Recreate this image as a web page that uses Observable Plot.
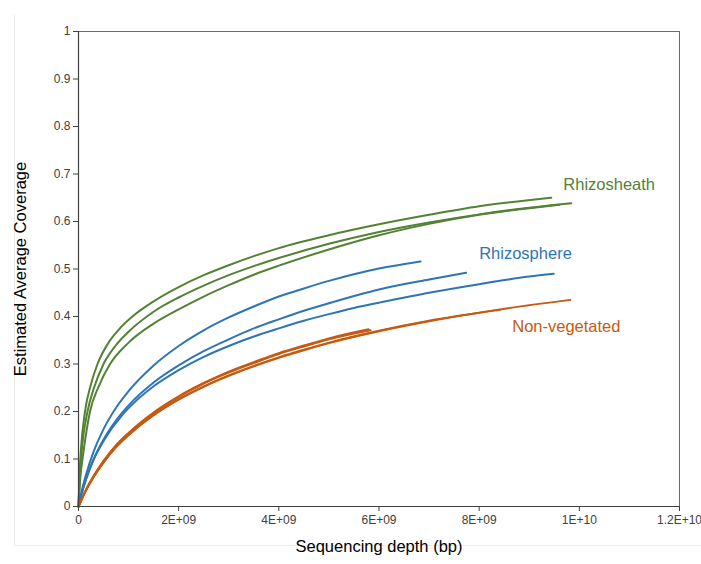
<!DOCTYPE html>
<html>
<head>
<meta charset="utf-8">
<script src="https://cdn.jsdelivr.net/npm/d3@7"></script>
<script src="https://cdn.jsdelivr.net/npm/@observablehq/plot@0.6"></script>
<style>
  html, body { margin: 0; padding: 0; background: #fff; }
  #wrap { position: relative; width: 701px; height: 564px; }
  .faint-v { position: absolute; left: 14px; top: 15px; width: 1px; height: 530px; background: #ececec; }
  .faint-h { position: absolute; left: 14px; top: 545px; width: 687px; height: 1px; background: #ececec; }
  svg { font-family: "Liberation Sans", Arial, sans-serif; }
</style>
</head>
<body>
<div id="wrap"><div class="faint-v"></div><div class="faint-h"></div></div>
<script>
// Sequencing depth in units of 1e9 bp, estimated average coverage
const rhizosheath1 = [[0,0],[0.02,0.066],[0.05,0.122],[0.13,0.2],[0.25,0.258],[0.38,0.3],[0.6,0.345],[0.8,0.372],[1.1,0.402],[1.5,0.432],[2,0.462],[2.5,0.487],[3,0.508],[3.5,0.527],[4,0.544],[5,0.571],[6,0.594],[7,0.614],[8,0.632],[9.44,0.65]];
const rhizosheath2 = [[0,0],[0.02,0.052],[0.06,0.112],[0.18,0.2],[0.3,0.247],[0.5,0.3],[0.75,0.34],[1,0.368],[1.5,0.41],[2,0.44],[2.5,0.465],[3,0.487],[3.5,0.506],[4,0.523],[5,0.553],[6,0.578],[7,0.598],[8,0.615],[9,0.629],[9.84,0.6386]];
const rhizosheath3 = [[0,0],[0.03,0.052],[0.1,0.115],[0.23,0.2],[0.4,0.252],[0.63,0.3],[1,0.345],[1.5,0.385],[2,0.415],[2.5,0.442],[3,0.466],[3.5,0.488],[4,0.507],[5,0.541],[6,0.571],[7,0.595],[8,0.614],[9,0.628],[9.6,0.635]];
const rhizosphere1 = [[0,0],[0.05,0.026],[0.15,0.067],[0.3,0.115],[0.5,0.163],[0.75,0.208],[1,0.243],[1.5,0.297],[2,0.338],[2.5,0.371],[3,0.398],[3.5,0.421],[4,0.442],[4.5,0.459],[5,0.475],[5.5,0.489],[6,0.501],[6.83,0.516]];
const rhizosphere2 = [[0,0],[0.05,0.022],[0.15,0.058],[0.3,0.099],[0.5,0.141],[0.82,0.191],[1,0.213],[1.5,0.261],[2,0.297],[2.5,0.327],[3,0.352],[3.5,0.375],[4,0.394],[4.5,0.412],[5,0.428],[5.5,0.443],[6,0.457],[7,0.478],[7.74,0.492]];
const rhizosphere3 = [[0,0],[0.05,0.022],[0.15,0.057],[0.3,0.098],[0.5,0.138],[0.86,0.191],[1,0.207],[1.5,0.253],[2,0.287],[2.5,0.315],[3,0.338],[3.5,0.358],[4,0.375],[4.5,0.391],[5,0.405],[5.5,0.418],[6,0.429],[7,0.45],[8,0.468],[9,0.484],[9.49,0.49]];
const nonveg1 = [[0,0],[0.05,0.012],[0.15,0.035],[0.3,0.064],[0.5,0.096],[0.75,0.129],[1,0.155],[1.5,0.198],[2,0.232],[2.5,0.26],[3,0.284],[3.5,0.304],[4,0.323],[4.5,0.339],[5,0.354],[5.79,0.373]];
const nonveg2 = [[0,0],[0.05,0.012],[0.15,0.035],[0.3,0.063],[0.5,0.095],[0.75,0.128],[1,0.154],[1.5,0.197],[2,0.231],[2.5,0.259],[3,0.282],[3.5,0.302],[4,0.321],[4.5,0.337],[5,0.352],[5.83,0.371]];
const nonveg3 = [[0,0],[0.05,0.012],[0.15,0.034],[0.3,0.062],[0.5,0.093],[0.75,0.125],[1,0.151],[1.5,0.193],[2,0.226],[2.5,0.253],[3,0.276],[3.5,0.296],[4,0.314],[4.5,0.33],[5,0.345],[6,0.37],[7,0.391],[8.42,0.414]];
const nonveg4 = [[0,0],[0.05,0.012],[0.15,0.034],[0.3,0.062],[0.5,0.093],[0.75,0.125],[1,0.15],[1.5,0.192],[2,0.225],[2.5,0.252],[3,0.275],[3.5,0.295],[4,0.313],[4.5,0.329],[5,0.344],[6,0.369],[7,0.39],[8.42,0.415],[9.82,0.435]];

const groups = ["Rhizosheath", "Rhizosphere", "Non-vegetated"];
const groupColors = ["#548235", "#2e75b6", "#c55a11"];

const xTicks = [0, 2, 4, 6, 8, 10, 12];
const xTickLabels = ["0", "2E+09", "4E+09", "6E+09", "8E+09", "1E+10", "1.2E+10"];
const yTicks = [0, 0.1, 0.2, 0.3, 0.4, 0.5, 0.6, 0.7, 0.8, 0.9, 1];
const yTickLabels = ["0", "0.1", "0.2", "0.3", "0.4", "0.5", "0.6", "0.7", "0.8", "0.9", "1"];

const seriesList = [
  ["Rhizosheath", rhizosheath1], ["Rhizosheath", rhizosheath2], ["Rhizosheath", rhizosheath3],
  ["Rhizosphere", rhizosphere1], ["Rhizosphere", rhizosphere2], ["Rhizosphere", rhizosphere3],
  ["Non-vegetated", nonveg1], ["Non-vegetated", nonveg2], ["Non-vegetated", nonveg3], ["Non-vegetated", nonveg4]
];
const rows = seriesList.flatMap(([g, pts], i) => pts.map(([x, y]) => ({group: g, id: i, x, y})));

// group labels anchored in data space
const groupLabels = [
  {group: "Rhizosheath", x: 9.68, y: 0.678},
  {group: "Rhizosphere", x: 8.0, y: 0.533},
  {group: "Non-vegetated", x: 8.66, y: 0.379}
];

const colorOf = g => groupColors[groups.indexOf(g)];

const chart = Plot.plot({
  width: 701,
  height: 564,
  marginLeft: 78,
  marginRight: 22,
  marginTop: 31,
  marginBottom: 58,
  style: {fontFamily: "'Liberation Sans', Arial, sans-serif", background: "transparent"},
  x: {domain: [0, 12]},
  y: {domain: [0, 1]},
  marks: [
    Plot.frame({stroke: "#6a6a6a", strokeWidth: 1}),
    Plot.line(rows, {x: "x", y: "y", z: "id", stroke: d => colorOf(d.group), strokeWidth: 2, curve: "monotone-x"}),
    Plot.axisX({ticks: xTicks, tickFormat: (d) => xTickLabels[xTicks.indexOf(d)], tickSize: 5, tickPadding: 4, fontSize: 12, color: "#404040", label: null}),
    Plot.axisY({ticks: yTicks, tickFormat: (d) => yTickLabels[yTicks.findIndex(t => Math.abs(t - d) < 1e-9)], tickSize: 5, tickPadding: 3, fontSize: 12, color: "#404040", label: null}),
    Plot.ruleX([0], {stroke: "#404040", strokeWidth: 1.2}),
    Plot.ruleY([0], {stroke: "#404040", strokeWidth: 1.2}),
    Plot.text(groupLabels, {x: "x", y: "y", text: "group", fill: d => colorOf(d.group), textAnchor: "start", fontSize: 16.5}),
    Plot.text(["Estimated Average Coverage"], {frameAnchor: "left", textAnchor: "middle", rotate: -90, dx: -58, fontSize: 16.5, fill: "#000"}),
    Plot.text(["Sequencing depth (bp)"], {frameAnchor: "bottom", textAnchor: "middle", dy: 45, fontSize: 16.5, fill: "#000"})
  ]
});
document.getElementById("wrap").appendChild(chart);
chart.style.position = "absolute";
chart.style.left = "0";
chart.style.top = "0";
</script>
</body>
</html>
